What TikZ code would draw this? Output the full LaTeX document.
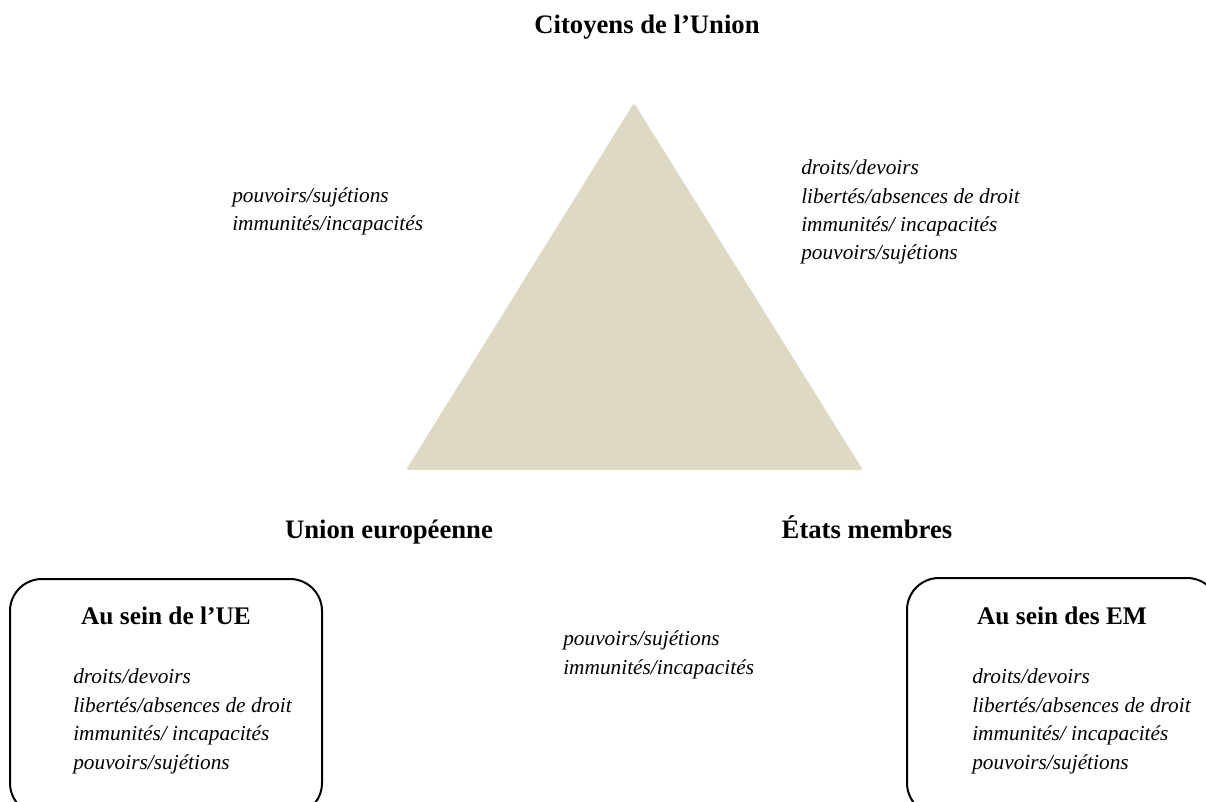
\documentclass[tikz,border=0pt]{standalone}
\usepackage{fontspec}
\setmainfont{Liberation Serif}
\definecolor{tanfill}{HTML}{DDD9C3}
\begin{document}
\begin{tikzpicture}[x=0.75pt,y=-0.75pt,
  head/.style={font=\fontsize{20}{24}\selectfont\bfseries, inner sep=0pt, anchor=base},
  boxhead/.style={font=\fontsize{19}{23}\selectfont\bfseries, inner sep=0pt, anchor=base},
  rel/.style={font=\fontsize{16}{21.3}\selectfont\itshape, align=left, inner sep=0pt, anchor=base west},
  framebox/.style={line width=1.5pt, rounded corners=24pt}]
\useasboundingbox (0,0) rectangle (1206,802);
\clip (0,0) rectangle (1206,802);
% triangle
\fill[tanfill, rounded corners=2pt] (634,103) -- (863,470) -- (406,470) -- cycle;
% vertex labels
\node[head] (citoyens) at (647,34) {Citoyens de l’Union};
\node[head] (ue) at (389,538) {Union européenne};
\node[head] (em) at (867,538) {États membres};
% relation texts (anchored at the baseline of the last line)
\node[rel] (relleft) at (232,231) {pouvoirs/sujétions\\immunités/incapacités};
\node[rel] (relright) at (801,260) {droits/devoirs\\libertés/absences de droit\\immunités/ incapacités\\pouvoirs/sujétions};
\node[rel] (relbottom) at (563,674) {pouvoirs/sujétions\\immunités/incapacités};
% boxes
\draw[framebox] (10,579) rectangle (322,815);
\draw[framebox] (907,578) rectangle (1219,815);
\node[boxhead] (ueinside) at (166,624) {Au sein de l’UE};
\node[rel] (uelist) at (73,769) {droits/devoirs\\libertés/absences de droit\\immunités/ incapacités\\pouvoirs/sujétions};
\node[boxhead] (eminside) at (1062,624) {Au sein des EM};
\node[rel] (emlist) at (972,769) {droits/devoirs\\libertés/absences de droit\\immunités/ incapacités\\pouvoirs/sujétions};
\end{tikzpicture}
\end{document}
